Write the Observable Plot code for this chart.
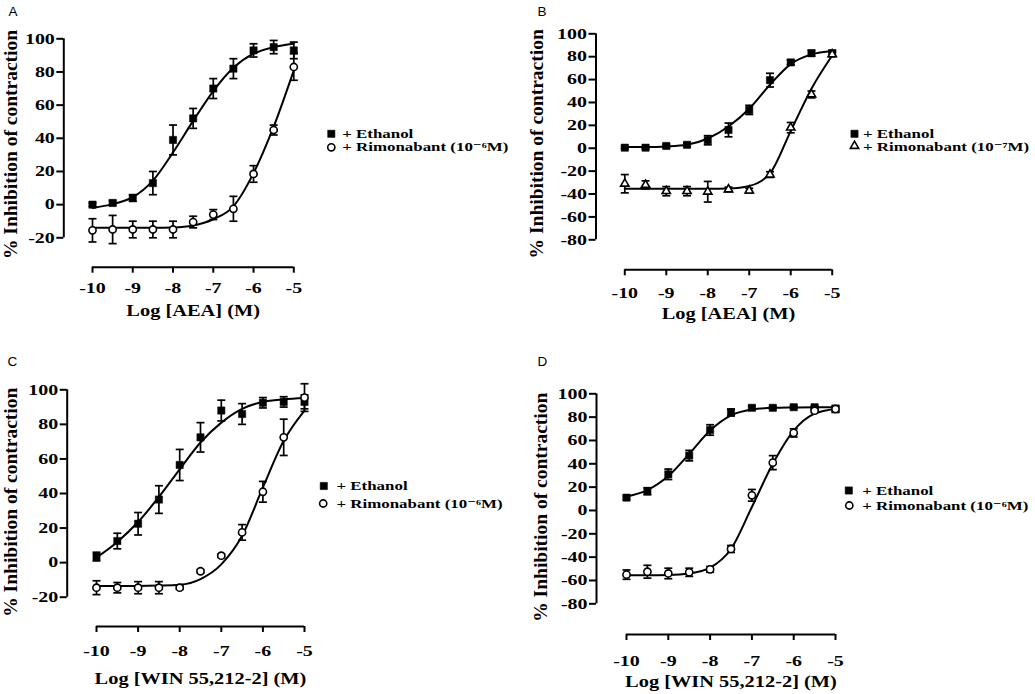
<!DOCTYPE html>
<html><head><meta charset="utf-8">
<script src="https://cdn.jsdelivr.net/npm/d3@7"></script>
<script src="https://cdn.jsdelivr.net/npm/@observablehq/plot@0.6"></script>
<style>
html,body{margin:0;padding:0;background:#fff;}
#root{position:relative;width:1035px;height:694px;overflow:hidden;background:#fff;}
#root > svg{position:absolute;}
</style></head><body><div id="root"></div>
<script>
// ---------- data ----------
const logConc = [-10, -9.5, -9, -8.5, -8, -7.5, -7, -6.5, -6, -5.5, -5];
const xTicks = [-10, -9, -8, -7, -6, -5];
const yTicksAC = [-20, 0, 20, 40, 60, 80, 100];
const yTicksBD = [-80, -60, -40, -20, 0, 20, 40, 60, 80, 100];
const yTitle = "% Inhibition of contraction";
const xLabelAEA = "Log [AEA] (M)";
const xLabelWIN = "Log [WIN 55,212-2] (M)";
const legendEthanol = "+ Ethanol";
const legendRim6 = "+ Rimonabant (10\u207B\u2076M)";
const legendRim7 = "+ Rimonabant (10\u207B\u2077M)";

// Panel A
const aEthMean = [0, 1, 4, 13, 39, 52, 70, 82, 93, 95, 93];
const aEthSem  = [1, 1.5, 2, 7, 9, 6, 6, 6, 4, 4, 5];
const aEthFit  = [-2, 0.3, 4.5, 14.5, 31.5, 50.5, 68.5, 82.5, 91, 95, 97];
const aRimMean = [-15.5, -15, -15, -15, -15, -10.5, -6, -2.5, 18.5, 45, 83];
const aRimSem  = [7, 8.5, 5, 5, 5, 3.5, 3, 7.5, 5, 3, 8];
const aRimFit  = [-14, -14, -14, -14, -13.8, -12.6, -8.8, -1, 19, 47, 81];
// Panel B
const bEthMean = [0.5, 0.5, 2, 3, 7, 16, 33.5, 59.5, 75, 83, 83];
const bEthSem  = [1, 1, 1.5, 1.5, 4, 6, 4, 6, 2, 2.5, 2.5];
const bEthFit  = [1, 1, 1.5, 3, 8.5, 19, 34.5, 55.5, 73.5, 82, 85];
const bRimMean = [-31, -32, -37.5, -37.5, -38, -36, -37, -23, 18, 47, 82];
const bRimSem  = [8, 3.5, 4, 4, 9, 2, 2, 2.5, 4.5, 3, 2];
const bRimFit  = [-35.5, -35.5, -35.5, -35.5, -35.5, -35.2, -33, -22, 15, 52, 81];
// Panel C
const cEthMean = [3.5, 12.5, 22.5, 36.5, 56.5, 72.5, 88, 86, 92.5, 93, 93];
const cEthSem  = [2.5, 4.5, 6.5, 8, 9, 8.5, 6, 6, 3, 3, 4];
const cEthFit  = [3, 12, 23.5, 38, 54, 69.5, 81, 89, 93, 94.5, 95.3];
const cRimMean = [-14.5, -14.5, -14.5, -14.5, -14.5, -5, 4, 17.5, 41, 72.5, 95.5];
const cRimSem  = [4, 3, 3.5, 3.5, 1, 1, 1, 4.5, 6, 10.5, 8];
const cRimFit  = [-13.5, -13.5, -13.5, -13.3, -12.8, -9.5, -1, 15.5, 43.5, 70.5, 88];
// Panel D
const dEthMean = [11, 16.5, 31, 47, 69, 84, 88, 88, 88.5, 88.5, 87];
const dEthSem  = [1.5, 3, 4.5, 4.5, 4.5, 3, 1.5, 1, 1, 1, 3];
const dEthFit  = [12, 17.5, 29.5, 48.5, 68.5, 81.5, 86.5, 88, 88.3, 88.5, 88.5];
const dRimMean = [-55, -52.5, -54, -53, -50.5, -33, 13, 41, 66.5, 85.5, 87];
const dRimSem  = [4, 5.5, 4.5, 3.5, 2.5, 3, 5, 6, 3.5, 1.5, 2];
const dRimFit  = [-55.5, -55.5, -55.3, -54, -49, -33, 3, 40, 68.5, 83, 87];

// ---------- layout (absolute page pixels) ----------
const panels = [
  {letter: "A", xLabel: xLabelAEA, yTicks: yTicksAC, eth: [aEthMean, aEthSem, aEthFit], rim: [aRimMean, aRimSem, aRimFit],
   rimSymbol: "circle", rimLegend: legendRim6,
   L: {ox: 0, oy: 0, xL: 92, xR: 293.3, yTop: 38.3, yBot: 237.3, yAxisX: 63.3, xAxisY: 266.7, tickBase: 292.7, xTitleBase: 315,
       yTitle: [10, 144], letter: [8, 15], sym1: [330.8, 133.3], sym2: [330.8, 146.8], textX: 341.7, l1: 133.1, l2: 146.8}},
  {letter: "B", xLabel: xLabelAEA, yTicks: yTicksBD, eth: [bEthMean, bEthSem, bEthFit], rim: [bRimMean, bRimSem, bRimFit],
   rimSymbol: "triangle", rimLegend: legendRim7,
   L: {ox: 517, oy: 0, xL: 624.3, xR: 831.7, yTop: 33.3, yBot: 239.3, yAxisX: 595.5, xAxisY: 269.3, tickBase: 297.7, xTitleBase: 318,
       yTitle: [536, 143.3], letter: [537, 15], sym1: [854, 133.3], sym2: [854, 145.5], textX: 862.5, l1: 133.3, l2: 146.5}},
  {letter: "C", xLabel: xLabelWIN, yTicks: yTicksAC, eth: [cEthMean, cEthSem, cEthFit], rim: [cRimMean, cRimSem, cRimFit],
   rimSymbol: "circle", rimLegend: legendRim6,
   L: {ox: 0, oy: 347, xL: 96, xR: 304, yTop: 389.3, yBot: 596.7, yAxisX: 66.7, xAxisY: 626, tickBase: 655, xTitleBase: 683.3,
       yTitle: [10, 501.7], letter: [7, 365], sym1: [323.3, 485.5], sym2: [322.7, 503], textX: 336, l1: 485.5, l2: 503}},
  {letter: "D", xLabel: xLabelWIN, yTicks: yTicksBD, eth: [dEthMean, dEthSem, dEthFit], rim: [dRimMean, dRimSem, dRimFit],
   rimSymbol: "circle", rimLegend: legendRim6,
   L: {ox: 517, oy: 347, xL: 626, xR: 835, yTop: 393.3, yBot: 603.3, yAxisX: 596, xAxisY: 634, tickBase: 665, xTitleBase: 686.7,
       yTitle: [540, 506.7], letter: [537, 365], sym1: [848.3, 490], sym2: [848.8, 505], textX: 861.7, l1: 490, l2: 505}}
];

const W = 517, H = 347;
const SERIF = "'Liberation Serif','Times New Roman','DejaVu Serif',serif";
const SANS = "'Liberation Sans',Arial,sans-serif";
const TICK_FS = 15, XT_FS = 17, LEG_FS = 13, YT_FS = 19.5, LETTER_FS = 13.5;
const STRETCH = {[TICK_FS]: 1.33, [XT_FS]: 1.2, [LEG_FS]: 1.3};
const capSymbol = {draw(ctx, size) { const w = Math.sqrt(size / Math.PI); ctx.moveTo(-w, 0); ctx.lineTo(w, 0); }};
const openR = s => s === "triangle" ? 3.1 : 3.6;

function seriesMarks(rows, symbol, filled) {
  const dotOpts = filled
    ? {x: "x", y: "y", symbol, r: 4.1, fill: "black", stroke: "black", strokeWidth: 0.5}
    : {x: "x", y: "y", symbol, r: openR(symbol), fill: "white", stroke: "black", strokeWidth: 1.6};
  return [
    Plot.ruleX(rows, {x: "x", y1: d => d.y - d.e, y2: d => d.y + d.e, stroke: "black", strokeWidth: 1.7}),
    Plot.dot(rows, {x: "x", y: d => d.y + d.e, symbol: capSymbol, r: 4, fill: "none", stroke: "black", strokeWidth: 1.7}),
    Plot.dot(rows, {x: "x", y: d => d.y - d.e, symbol: capSymbol, r: 4, fill: "none", stroke: "black", strokeWidth: 1.7}),
    Plot.dot(rows, dotOpts)
  ];
}

function stretchTexts(svg) {
  svg.querySelectorAll("text").forEach(t => {
    const fs = parseFloat(getComputedStyle(t).fontSize);
    const sx = STRETCH[fs];
    if (!sx) return;
    let tr = t.getAttribute("transform");
    if (!tr) {
      const x = +t.getAttribute("x") || 0;
      t.removeAttribute("x");
      tr = `translate(${x},0)`;
    }
    t.setAttribute("transform", tr + ` scale(${sx},1)`);
  });
}

function buildPanel(p) {
  const L = p.L;
  const mL = L.yAxisX - L.ox, mR = W - (L.xR - L.ox), mT = L.yTop - L.oy, mB = H - (L.xAxisY - L.oy);
  const yMin = d3.min(p.yTicks), yMax = d3.max(p.yTicks);
  const xDom = [d3.min(xTicks), d3.max(xTicks)];
  // pixel -> data helpers for the offset axis lines (same linear maps as the scales)
  const xAt = px => xDom[0] + (px - L.xL) / (L.xR - L.xL) * (xDom[1] - xDom[0]);
  const yAt = py => yMin + (L.yBot - py) / (L.yBot - L.yTop) * (yMax - yMin);
  const rows = s => logConc.map((x, i) => ({x, y: s[0][i], e: s[1][i]}));
  const fit = s => logConc.map((x, i) => ({x, y: s[2][i]}));
  const tickPad = L.tickBase - L.xAxisY - 6 - 0.71 * TICK_FS;
  const fx0 = L.ox + mL, fy0 = L.oy + mT;
  const at = (px, py) => ({x: null, y: null, frameAnchor: "top-left", dx: px - fx0, dy: py - fy0, lineAnchor: "middle"});

  const svg = Plot.plot({
    width: W, height: H,
    marginLeft: mL, marginRight: mR, marginTop: mT, marginBottom: mB,
    x: {domain: xDom, range: [L.xL - L.ox, L.xR - L.ox]},
    y: {domain: [yMin, yMax], range: [L.yBot - L.oy, L.yTop - L.oy]},
    style: {fontFamily: SERIF, fontWeight: "bold", color: "black", background: "white", overflow: "visible"},
    marks: [
      // axes (GraphPad style: offset, separated axis lines)
      Plot.ruleX([xAt(L.yAxisX)], {y1: () => yMin, y2: () => yMax, stroke: "black", strokeWidth: 2}),
      Plot.axisY(p.yTicks, {tickSize: 7, tickPadding: 2, fontSize: TICK_FS, strokeWidth: 2, label: null, tickFormat: d => String(d)}),
      Plot.ruleY([yAt(L.xAxisY)], {x1: () => xDom[0], x2: () => xDom[1], stroke: "black", strokeWidth: 2}),
      Plot.axisX(xTicks, {tickSize: 6, tickPadding: tickPad, fontSize: TICK_FS, strokeWidth: 2, label: null, tickFormat: d => String(d)}),
      // fitted curves
      Plot.line(fit(p.eth), {x: "x", y: "y", curve: "monotone-x", stroke: "black", strokeWidth: 2}),
      Plot.line(fit(p.rim), {x: "x", y: "y", curve: "monotone-x", stroke: "black", strokeWidth: 2}),
      // data with SEM bars
      ...seriesMarks(rows(p.eth), "square", true),
      ...seriesMarks(rows(p.rim), p.rimSymbol, false),
      // titles
      Plot.text([yTitle], {text: d => d, rotate: -90, fontSize: YT_FS, textAnchor: "middle", ...at(L.yTitle[0], L.yTitle[1])}),
      Plot.text([p.xLabel], {x: () => (xDom[0] + xDom[1]) / 2, y: null, text: d => d, frameAnchor: "bottom", lineAnchor: "middle",
        textAnchor: "middle", dy: L.xTitleBase - 0.32 * XT_FS - L.xAxisY, fontSize: XT_FS}),
      Plot.text([p.letter], {text: d => d, fontFamily: SANS, fontWeight: "normal", fontSize: LETTER_FS, textAnchor: "start",
        ...at(L.letter[0], L.letter[1] - 0.32 * LETTER_FS)}),
      // legend
      Plot.dot([0], {symbol: "square", r: 4.1, fill: "black", stroke: "black", strokeWidth: 0.5, ...at(L.sym1[0], L.sym1[1])}),
      Plot.dot([0], {symbol: p.rimSymbol, r: openR(p.rimSymbol), fill: "white", stroke: "black", strokeWidth: 1.6, ...at(L.sym2[0], L.sym2[1])}),
      Plot.text([legendEthanol], {text: d => d, fontSize: LEG_FS, textAnchor: "start", ...at(L.textX, L.l1)}),
      Plot.text([p.rimLegend], {text: d => d, fontSize: LEG_FS, textAnchor: "start", ...at(L.textX, L.l2)})
    ]
  });
  svg.style.position = "absolute";
  svg.style.left = L.ox + "px";
  svg.style.top = L.oy + "px";
  return svg;
}

const root = document.getElementById("root");
panels.forEach(p => {
  const svg = buildPanel(p);
  root.appendChild(svg);
  stretchTexts(svg);
});
</script>
</body></html>
